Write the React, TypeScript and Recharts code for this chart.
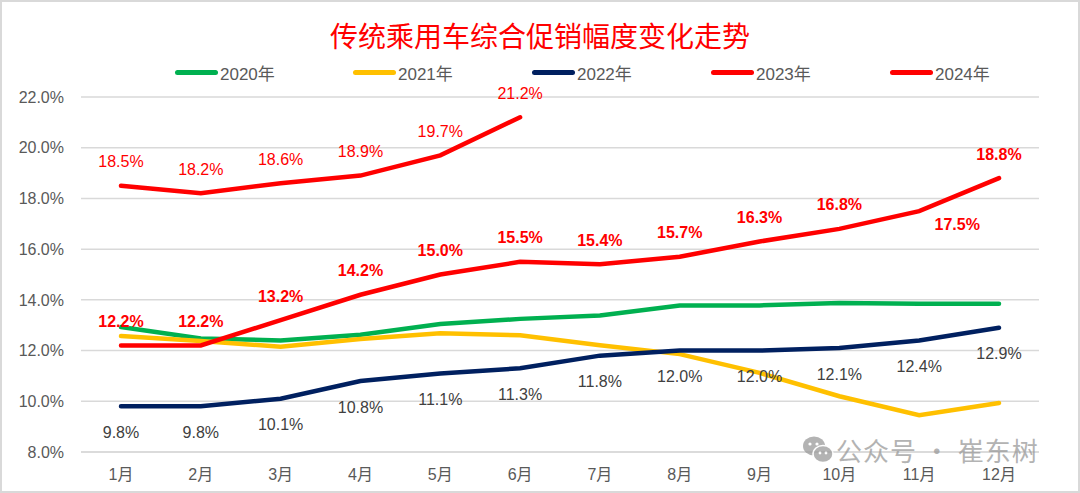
import React from 'react';
import { LineChart, Line, XAxis, YAxis, CartesianGrid, Legend } from 'recharts';

const months = ['1月', '2月', '3月', '4月', '5月', '6月', '7月', '8月', '9月', '10月', '11月', '12月'];
const y2020 = [12.93, 12.48, 12.4, 12.62, 13.05, 13.25, 13.38, 13.78, 13.78, 13.88, 13.85, 13.85];
const y2021 = [12.57, 12.38, 12.15, 12.46, 12.68, 12.6, 12.21, 11.86, 11.12, 10.2, 9.45, 9.93];
const y2022 = [9.8, 9.8, 10.1, 10.8, 11.1, 11.3, 11.8, 12.0, 12.0, 12.1, 12.4, 12.9];
const y2023 = [12.2, 12.2, 13.2, 14.2, 15.0, 15.5, 15.4, 15.7, 16.3, 16.8, 17.5, 18.8];
const y2024 = [18.5, 18.2, 18.6, 18.9, 19.7, 21.2, null, null, null, null, null, null];
const yTicks = [8, 10, 12, 14, 16, 18, 20, 22];

const FONT = '"Liberation Sans", Arial, "Noto Sans CJK SC", sans-serif';

const series = [
  { key: 'y2020', name: '2020年', color: '#00B050', values: y2020 },
  { key: 'y2021', name: '2021年', color: '#FFC000', values: y2021 },
  { key: 'y2022', name: '2022年', color: '#002060', values: y2022 },
  { key: 'y2023', name: '2023年', color: '#FF0000', values: y2023 },
  { key: 'y2024', name: '2024年', color: '#FF0000', values: y2024 },
];

const data = months.map((m, i) => {
  const row: any = { month: m };
  series.forEach((s) => { row[s.key] = s.values[i]; });
  return row;
});

// legend item left positions
const legendLeft = [175, 353, 532, 711, 890];

const LegendContent = () => (
  <div style={{ position: 'relative', width: 1080, height: 0 }}>
    {series.map((s, i) => (
      <div
        key={s.key}
        style={{
          position: 'absolute', left: legendLeft[i], top: 61, height: 22,
          display: 'flex', alignItems: 'center', whiteSpace: 'nowrap',
        }}
      >
        <span style={{ display: 'inline-block', width: 43, height: 5, borderRadius: 3, background: s.color }} />
        <span style={{ marginLeft: 2, fontSize: 17, color: '#595959', fontFamily: FONT }}>{s.name}</span>
      </div>
    ))}
  </div>
);

const makeLabel = (color: string, weight: string, dy: number, special?: (i: number) => { dx: number; dy: number } | null) =>
  (props: any) => {
    const { x, y, value, index } = props;
    if (value == null || x == null || y == null) return null;
    let ox = 0;
    let oy = dy;
    const sp = special ? special(index) : null;
    if (sp) { ox = sp.dx; oy = sp.dy; }
    return (
      <text
        x={x + ox}
        y={y + oy}
        textAnchor="middle"
        dominantBaseline="central"
        fill={color}
        fontSize={16}
        fontWeight={weight}
        fontFamily={FONT}
      >
        {Number(value).toFixed(1)}%
      </text>
    );
  };

const label2022 = makeLabel('#404040', 'normal', 26);
const label2023 = makeLabel('#FF0000', 'bold', -24, (i) => (i === 10 ? { dx: 38, dy: 13 } : null));
const label2024 = makeLabel('#FF0000', 'normal', -24);

const App: React.FC = () => {
  return (
    <div
      style={{
        position: 'absolute', left: 0, top: 0, width: 1080, height: 493,
        background: '#fff', border: '2px solid #d9d9d9', boxSizing: 'border-box', overflow: 'hidden',
      }}
    >
      <div
        style={{
          position: 'absolute', left: -2, top: 13, width: 1080, textAlign: 'center',
          fontSize: 28, color: '#FF0000', fontFamily: '"Noto Sans CJK SC", sans-serif', lineHeight: '40px',
        }}
      >
        传统乘用车综合促销幅度变化走势
      </div>
      <div style={{ position: 'absolute', left: -2, top: -2 }}>
        <LineChart width={1080} height={493} data={data} margin={{ top: 97, right: 41, left: 8, bottom: 11 }}>
          <CartesianGrid vertical={false} stroke="#d9d9d9" strokeWidth={1.5} />
          <XAxis
            dataKey="month"
            height={30}
            padding={{ left: 40, right: 40 }}
            axisLine={{ stroke: '#d9d9d9', strokeWidth: 1.5 }}
            tickLine={false}
            tickSize={0}
            tickMargin={17}
            tick={{ fill: '#595959', fontSize: 16, fontFamily: FONT }}
          />
          <YAxis
            width={73}
            domain={[8, 22]}
            ticks={yTicks}
            axisLine={false}
            tickLine={false}
            tickSize={0}
            tickMargin={17}
            tickFormatter={(v: number) => `${v.toFixed(1)}%`}
            tick={{ fill: '#595959', fontSize: 16, fontFamily: FONT }}
          />
          <Legend verticalAlign="top" content={<LegendContent />} wrapperStyle={{ top: 0, left: 0, width: 1080, height: 0 }} />
          <Line type="linear" dataKey="y2020" name="2020年" stroke="#00B050" strokeWidth={4.5} dot={false} isAnimationActive={false} strokeLinecap="round" />
          <Line type="linear" dataKey="y2021" name="2021年" stroke="#FFC000" strokeWidth={4.5} dot={false} isAnimationActive={false} strokeLinecap="round" />
          <Line type="linear" dataKey="y2022" name="2022年" stroke="#002060" strokeWidth={4.5} dot={false} isAnimationActive={false} strokeLinecap="round" label={label2022} />
          <Line type="linear" dataKey="y2023" name="2023年" stroke="#FF0000" strokeWidth={4.5} dot={false} isAnimationActive={false} strokeLinecap="round" label={label2023} />
          <Line type="linear" dataKey="y2024" name="2024年" stroke="#FF0000" strokeWidth={4.5} dot={false} isAnimationActive={false} strokeLinecap="round" label={label2024} />
        </LineChart>
      </div>
      <div
        style={{
          position: 'absolute', left: 800, top: 434, height: 28, display: 'flex', alignItems: 'center',
          opacity: 0.75, pointerEvents: 'none',
        }}
      >
        <svg width={32} height={28}>
          <ellipse cx={12} cy={10} rx={11} ry={9.5} fill="#9a9a9a" />
          <ellipse cx={21} cy={18} rx={10} ry={8.5} fill="#9a9a9a" stroke="#fff" strokeWidth={1.5} />
          <circle cx={8} cy={8} r={1.6} fill="#fff" />
          <circle cx={15} cy={8} r={1.6} fill="#fff" />
          <circle cx={18} cy={17} r={1.4} fill="#fff" />
          <circle cx={24} cy={17} r={1.4} fill="#fff" />
        </svg>
        <span style={{ marginLeft: 2, fontSize: 26, lineHeight: '28px', color: '#9a9a9a', fontFamily: '"Noto Sans CJK SC", sans-serif', letterSpacing: 1 }}>
          公众号 · 崔东树
        </span>
      </div>
    </div>
  );
};

export default App;
